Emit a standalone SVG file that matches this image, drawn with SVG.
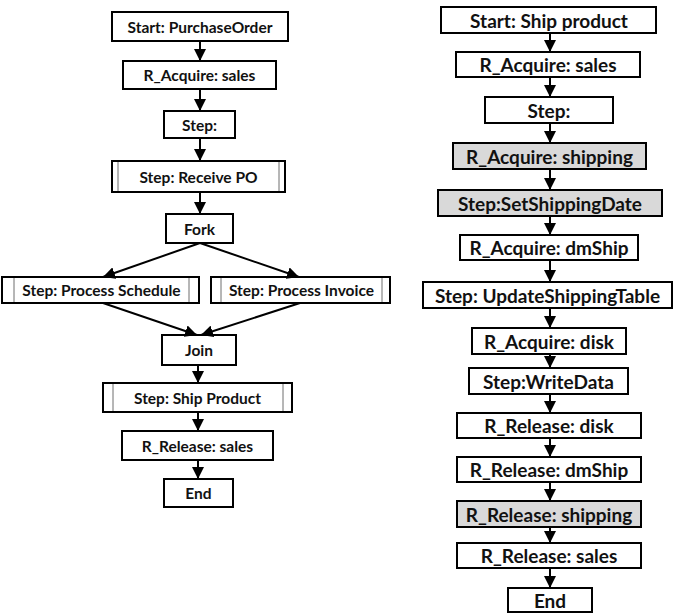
<svg xmlns="http://www.w3.org/2000/svg" width="676" height="614" viewBox="0 0 676 614">
  <style>
    .box { fill: #ffffff; stroke: #000000; stroke-width: 2; }
    .res { fill: #d9d9d9; stroke: #000000; stroke-width: 2; }
    .sub { stroke: #6e6e6e; stroke-width: 1; }
    .lbl { font-family: Lato, "Liberation Sans", sans-serif; font-weight: bold; fill: #111111; text-anchor: middle; dominant-baseline: central; }
    .po { font-size: 15.5px; }
    .sp { font-size: 19px; }
    .edge { stroke: #000000; stroke-width: 2; fill: none; marker-end: url(#head); }
  </style>
  <defs>
    <marker id="head" viewBox="0 0 10 10" refX="10" refY="5" markerUnits="userSpaceOnUse" markerWidth="12" markerHeight="12" orient="auto">
      <path d="M0,0 L10,5 L0,10 z" fill="#000000"/>
    </marker>
  </defs>
  <rect width="676" height="614" fill="#ffffff"/>

  <!-- Left flow: purchase order process -->
  <g id="po-start"><rect class="box" x="112" y="12" width="176" height="29"/><text class="lbl po" x="200" y="26.5">Start: PurchaseOrder</text></g>
  <g id="po-acquire-sales"><rect class="box" x="123" y="61" width="153" height="28"/><text class="lbl po" x="199.5" y="75">R_Acquire: sales</text></g>
  <g id="po-step"><rect class="box" x="164" y="111" width="71" height="27"/><text class="lbl po" x="199.5" y="124.5">Step:</text></g>
  <g id="po-receive"><rect class="box" x="112" y="161" width="173" height="31"/><line class="sub" x1="118" y1="162" x2="118" y2="191"/><line class="sub" x1="279" y1="162" x2="279" y2="191"/><text class="lbl po" x="198.5" y="176.5">Step: Receive PO</text></g>
  <g id="po-fork"><rect class="box" x="166" y="214" width="67" height="29"/><text class="lbl po" x="199.5" y="228.5">Fork</text></g>
  <g id="po-schedule"><rect class="box" x="2" y="277" width="197" height="26"/><line class="sub" x1="14" y1="278" x2="14" y2="302"/><line class="sub" x1="189" y1="278" x2="189" y2="302"/><text class="lbl po" x="101.5" y="290">Step: Process Schedule</text></g>
  <g id="po-invoice"><rect class="box" x="211" y="277" width="179" height="26"/><line class="sub" x1="221" y1="278" x2="221" y2="302"/><line class="sub" x1="382" y1="278" x2="382" y2="302"/><text class="lbl po" x="301.5" y="290">Step: Process Invoice</text></g>
  <g id="po-join"><rect class="box" x="162" y="335" width="74" height="30"/><text class="lbl po" x="199" y="350">Join</text></g>
  <g id="po-ship"><rect class="box" x="103" y="383" width="189" height="29"/><line class="sub" x1="113" y1="384" x2="113" y2="411"/><line class="sub" x1="283" y1="384" x2="283" y2="411"/><text class="lbl po" x="197.5" y="397.5">Step: Ship Product</text></g>
  <g id="po-release-sales"><rect class="box" x="122" y="431" width="151" height="29"/><text class="lbl po" x="197.5" y="445.5">R_Release: sales</text></g>
  <g id="po-end"><rect class="box" x="164" y="479" width="69" height="28"/><text class="lbl po" x="198.5" y="493">End</text></g>

  <!-- Right flow: ship product process -->
  <g id="sp-start"><rect class="box" x="441" y="7" width="215" height="26"/><text class="lbl sp" x="549" y="20">Start: Ship product</text></g>
  <g id="sp-acquire-sales"><rect class="box" x="456" y="52" width="184" height="25"/><text class="lbl sp" x="548" y="64.5">R_Acquire: sales</text></g>
  <g id="sp-step"><rect class="box" x="485" y="97" width="128" height="26"/><text class="lbl sp" x="549" y="110">Step:</text></g>
  <g id="sp-acquire-shipping"><rect class="res" x="453" y="143" width="193" height="26"/><text class="lbl sp" x="549.5" y="156">R_Acquire: shipping</text></g>
  <g id="sp-set-date"><rect class="res" x="438" y="190" width="224" height="26"/><text class="lbl sp" x="550" y="203">Step:SetShippingDate</text></g>
  <g id="sp-acquire-dmship"><rect class="box" x="460" y="235" width="178" height="25"/><text class="lbl sp" x="549" y="247.5">R_Acquire: dmShip</text></g>
  <g id="sp-update-table"><rect class="box" x="423" y="282" width="249" height="26"/><text class="lbl sp" x="547.5" y="295">Step: UpdateShippingTable</text></g>
  <g id="sp-acquire-disk"><rect class="box" x="472" y="328" width="154" height="26"/><text class="lbl sp" x="549" y="341">R_Acquire: disk</text></g>
  <g id="sp-write"><rect class="box" x="469" y="368" width="159" height="26"/><text class="lbl sp" x="548.5" y="381">Step:WriteData</text></g>
  <g id="sp-release-disk"><rect class="box" x="457" y="413" width="184" height="25"/><text class="lbl sp" x="549" y="425.5">R_Release: disk</text></g>
  <g id="sp-release-dmship"><rect class="box" x="457" y="457" width="184" height="25"/><text class="lbl sp" x="549" y="469.5">R_Release: dmShip</text></g>
  <g id="sp-release-shipping"><rect class="res" x="457" y="501" width="184" height="26"/><text class="lbl sp" x="549" y="514">R_Release: shipping</text></g>
  <g id="sp-release-sales"><rect class="box" x="457" y="543" width="184" height="25"/><text class="lbl sp" x="549" y="555.5">R_Release: sales</text></g>
  <g id="sp-end"><rect class="box" x="508" y="588" width="84" height="24"/><text class="lbl sp" x="550" y="600">End</text></g>

  <g id="connectors">
    <!-- left flow -->
    <line class="edge" x1="200" y1="41" x2="200" y2="61"/>
    <line class="edge" x1="200" y1="89" x2="200" y2="111"/>
    <line class="edge" x1="200" y1="138" x2="200" y2="161"/>
    <line class="edge" x1="200" y1="192" x2="200" y2="214"/>
    <line class="edge" x1="200" y1="243" x2="103" y2="277"/>
    <line class="edge" x1="200" y1="243" x2="299" y2="277"/>
    <line class="edge" x1="103" y1="303" x2="197" y2="335"/>
    <line class="edge" x1="300" y1="303" x2="201" y2="335"/>
    <line class="edge" x1="198" y1="365" x2="198" y2="383"/>
    <line class="edge" x1="198" y1="412" x2="198" y2="431"/>
    <line class="edge" x1="198" y1="460" x2="198" y2="479"/>
    <!-- right flow -->
    <line class="edge" x1="550" y1="33" x2="550" y2="52"/>
    <line class="edge" x1="550" y1="77" x2="550" y2="97"/>
    <line class="edge" x1="550" y1="123" x2="550" y2="143"/>
    <line class="edge" x1="550" y1="169" x2="550" y2="190"/>
    <line class="edge" x1="550" y1="216" x2="550" y2="235"/>
    <line class="edge" x1="550" y1="260" x2="550" y2="282"/>
    <line class="edge" x1="550" y1="308" x2="550" y2="328"/>
    <line class="edge" x1="550" y1="354" x2="550" y2="368"/>
    <line class="edge" x1="550" y1="394" x2="550" y2="413"/>
    <line class="edge" x1="550" y1="438" x2="550" y2="457"/>
    <line class="edge" x1="550" y1="482" x2="550" y2="501"/>
    <line class="edge" x1="550" y1="527" x2="550" y2="543"/>
    <line class="edge" x1="550" y1="568" x2="550" y2="588"/>
  </g>
</svg>
